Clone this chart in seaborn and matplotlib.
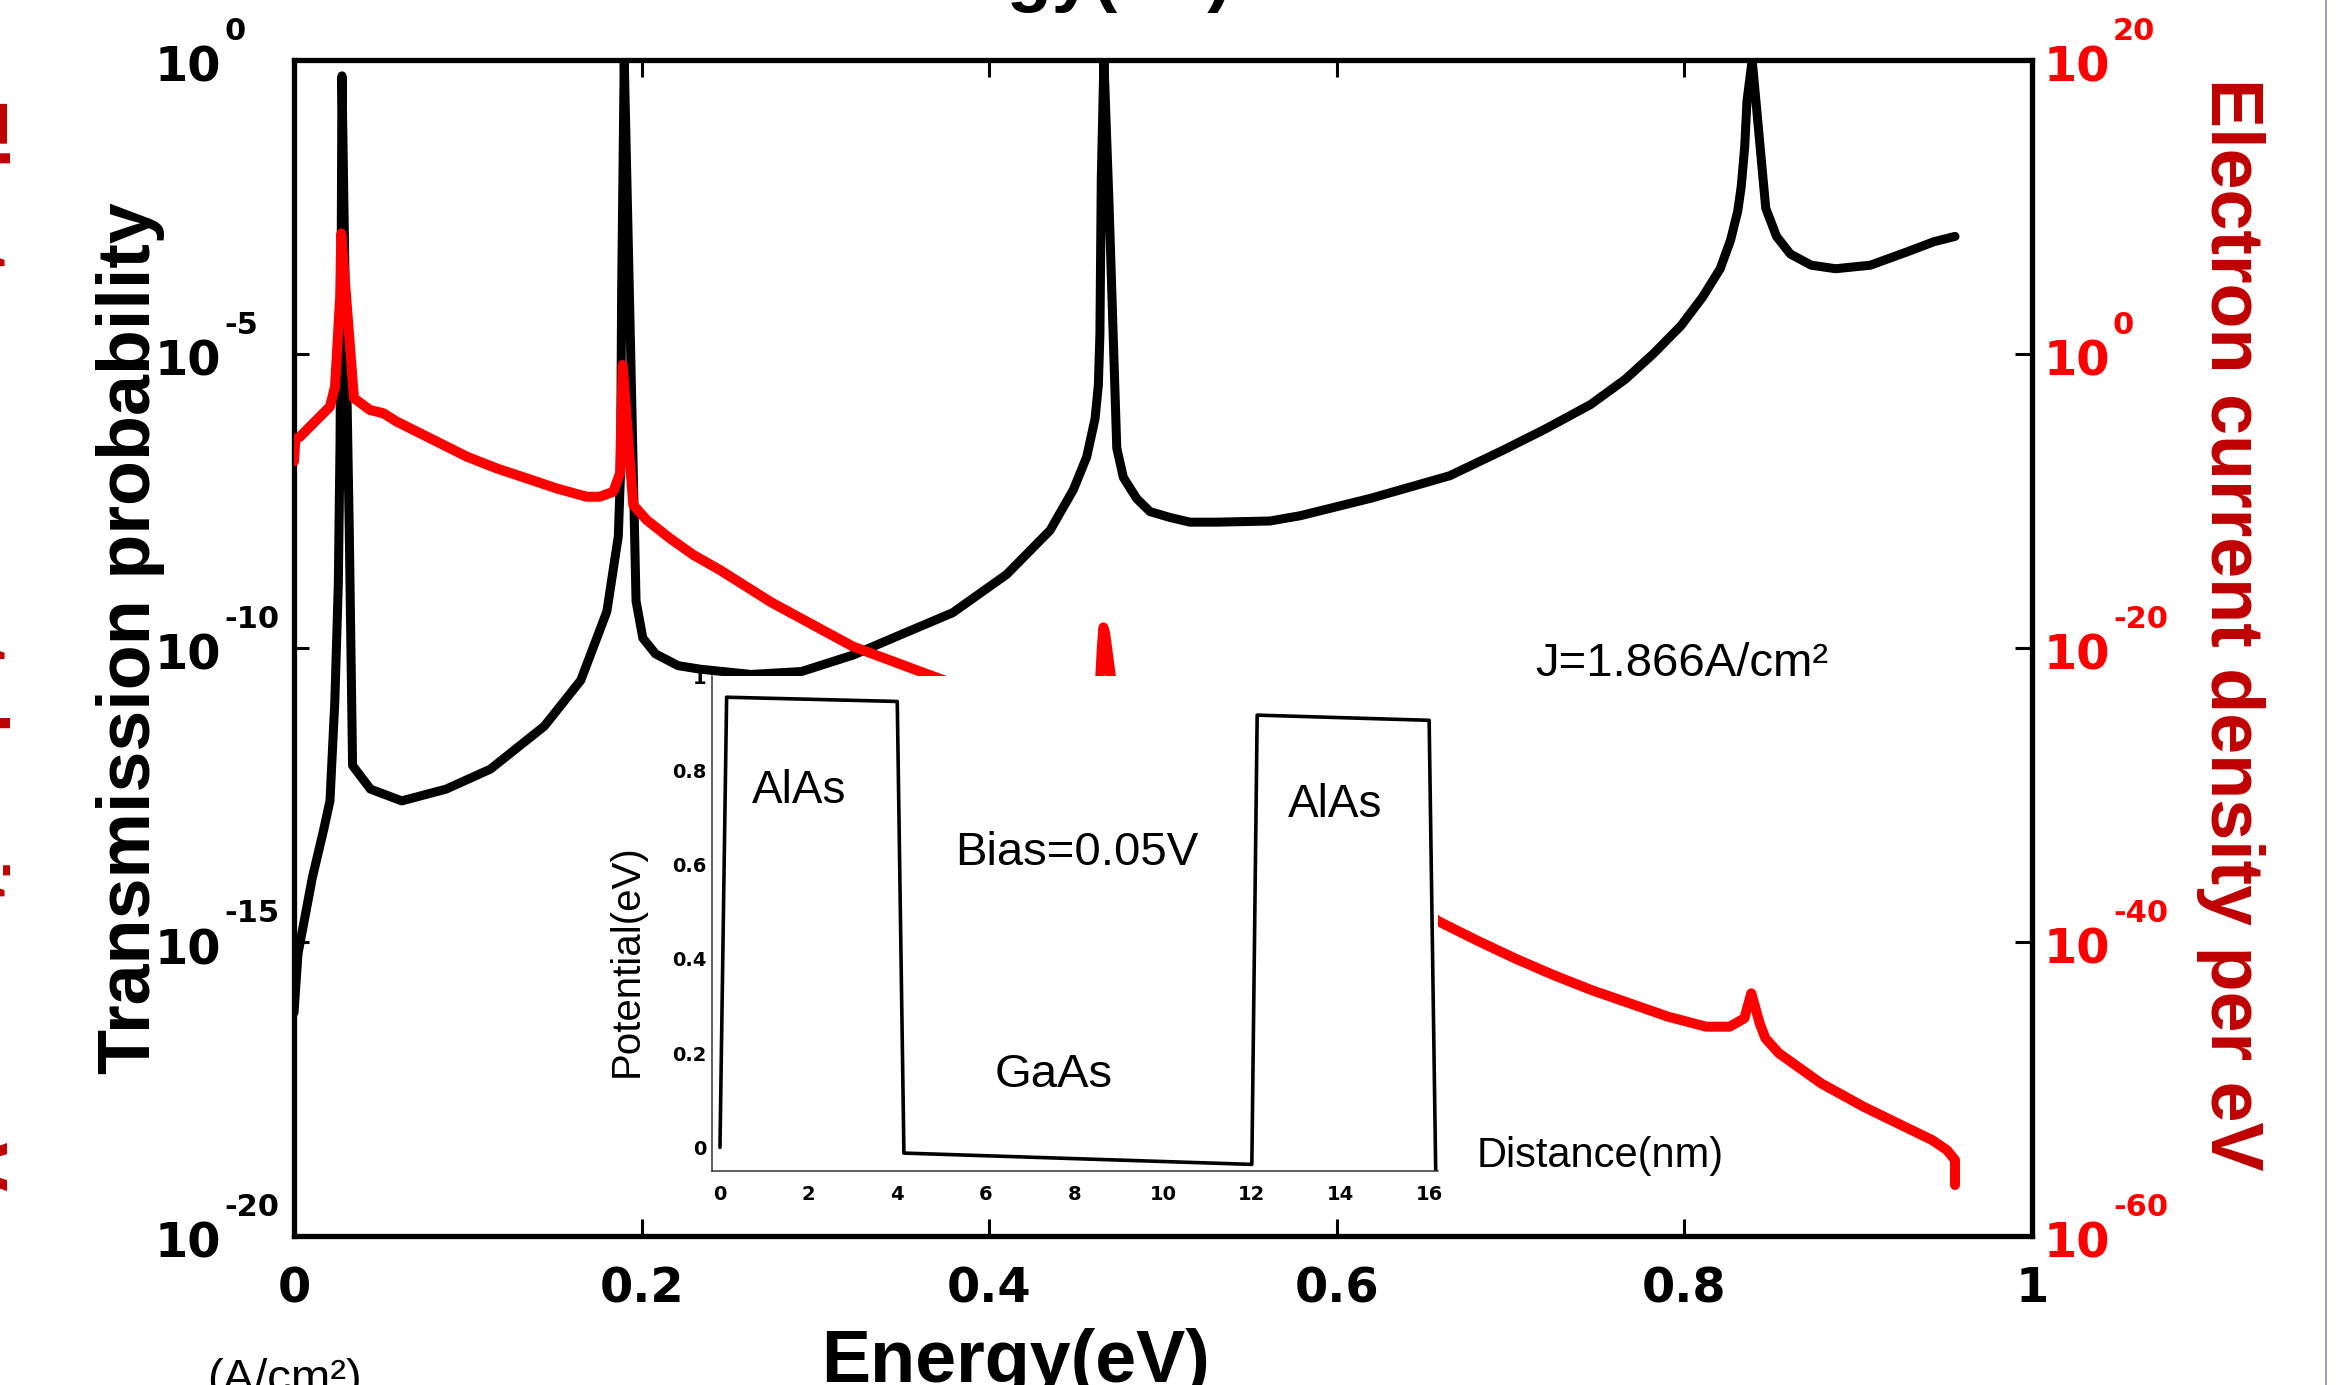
import numpy as np
import pandas as pd
import seaborn as sns
import matplotlib
matplotlib.use("Agg")
import matplotlib.pyplot as plt
from matplotlib import transforms
from matplotlib.lines import Line2D
from matplotlib.ticker import NullLocator

# ---------------- data ----------------
# Transmission probability T(E): energy (eV) and log10(T)
energy_t = [0.0000, 0.0023, 0.0106, 0.0170, 0.0207, 0.0235, 0.0255, 0.0265, 0.0272, 0.0276,
            0.0295, 0.0318, 0.0337, 0.0440, 0.0620, 0.0875, 0.1130, 0.1440, 0.1650, 0.1800,
            0.1866, 0.1879, 0.1885, 0.1900, 0.1930, 0.1968, 0.2007, 0.2080, 0.2210, 0.2336,
            0.2630, 0.2920, 0.3217, 0.3510, 0.3790, 0.4100, 0.4350, 0.4484, 0.4561, 0.4609,
            0.4628, 0.4637, 0.4645, 0.4660, 0.4690, 0.4734, 0.4772, 0.4849, 0.4925, 0.5040,
            0.5155, 0.5310, 0.5616, 0.5790, 0.6200, 0.6650, 0.6954, 0.7197, 0.7460, 0.7660,
            0.7820, 0.7980, 0.8105, 0.8206, 0.8266, 0.8307, 0.8327, 0.8347, 0.8360, 0.8390,
            0.8468, 0.8530, 0.8610, 0.8730, 0.8870, 0.9070, 0.9275, 0.9436, 0.9557]
log_transmission = [-16.2, -15.2, -13.9, -13.1, -12.6, -10.9, -8.9, -6.5, -3.0, -0.27,
                    -4.0, -8.0, -12.0, -12.4, -12.6, -12.4, -12.06, -11.33, -10.55, -9.38,
                    -8.10, -7.00, -4.0, 0.0, -4.0, -9.2, -9.83, -10.10, -10.30, -10.36,
                    -10.45, -10.40, -10.12, -9.75, -9.40, -8.75, -8.00, -7.31, -6.75, -6.10,
                    -5.53, -4.67, -2.0, 0.0, -2.5, -6.60, -7.10, -7.46, -7.68, -7.78,
                    -7.86, -7.86, -7.84, -7.75, -7.45, -7.07, -6.64, -6.28, -5.86, -5.43,
                    -5.00, -4.52, -4.03, -3.55, -3.06, -2.57, -2.15, -1.48, -0.70, 0.0,
                    -2.52, -3.00, -3.30, -3.49, -3.55, -3.49, -3.27, -3.09, -3.00]

# Electron current density per eV: energy (eV) and log10(J)
energy_j = [0.0000, 0.0008, 0.0035, 0.0111, 0.0207, 0.0236, 0.0246, 0.0266, 0.0272, 0.0300,
            0.0345, 0.0437, 0.0514, 0.0591, 0.0725, 0.0879, 0.0994, 0.1166, 0.1339, 0.1510,
            0.1684, 0.1760, 0.1837, 0.1876, 0.1891, 0.1952, 0.2029, 0.2163, 0.2298, 0.2450,
            0.2747, 0.3216, 0.3657, 0.4000, 0.4400, 0.4580, 0.4630, 0.4648, 0.4657, 0.4667,
            0.4700, 0.4760, 0.4900, 0.5200, 0.5600, 0.6000, 0.6300, 0.6590, 0.6800, 0.7024,
            0.7245, 0.7465, 0.7685, 0.7906, 0.8125, 0.8260, 0.8345, 0.8385, 0.8433, 0.8466,
            0.8544, 0.8786, 0.9030, 0.9226, 0.9425, 0.9510, 0.9557, 0.9557]
log_current = [-7.3, -5.8, -5.62, -4.71, -3.58, -2.22, -0.18, 4.0, 8.2, 3.9,
               -3.0, -3.81, -4.03, -4.60, -5.39, -6.30, -6.98, -7.78, -8.46, -9.14,
               -9.71, -9.71, -9.37, -8.12, -0.75, -10.27, -11.29, -12.54, -13.67, -14.69,
               -16.90, -19.90, -21.84, -23.3, -25.0, -25.6, -24.0, -20.0, -18.6, -19.0,
               -21.9, -24.5, -26.5, -28.9, -31.5, -34.2, -36.4, -38.62, -39.86, -41.11,
               -42.24, -43.27, -44.17, -45.08, -45.76, -45.76, -45.19, -43.49, -45.53, -46.55,
               -47.57, -49.61, -51.20, -52.33, -53.47, -54.15, -54.83, -56.53]

# Double-barrier potential profile under bias
distance_nm = [0.0, 0.15, 4.0, 4.15, 12.0, 12.12, 16.0, 16.15]
potential_ev = [0.0, 0.955, 0.946, -0.012, -0.036, 0.917, 0.906, -0.06]

x_ticks = [0, 0.2, 0.4, 0.6, 0.8, 1]
x_tick_labels = ["0", "0.2", "0.4", "0.6", "0.8", "1"]
left_exponents = [0, -5, -10, -15, -20]
right_exponents = [20, 0, -20, -40, -60]
inset_xticks = [0, 2, 4, 6, 8, 10, 12, 14, 16]
inset_yticks = [0, 0.2, 0.4, 0.6, 0.8, 1]
inset_ytick_labels = ["0", "0.2", "0.4", "0.6", "0.8", "1"]

# ---------------- figure ----------------
sns.set_theme(style="white")
plt.rcParams["font.family"] = ["Liberation Sans", "DejaVu Sans"]

W, H = 2340, 1385
fig = plt.figure(figsize=(W / 100, H / 100), dpi=100)
fig.patch.set_facecolor("white")


def fx(px):
    return px / W


def fy(py):
    return 1 - py / H


AX_L, AX_R, AX_T, AX_B = 294, 2032, 60, 1236
ax = fig.add_axes([fx(AX_L), fy(AX_B), fx(AX_R) - fx(AX_L), fy(AX_T) - fy(AX_B)])
ax.set_facecolor("white")
ax2 = ax.twinx()

ax.set_yscale("log")
ax.set_xlim(0, 1)
ax.set_ylim(1e-20, 1)
ax2.set_yscale("log")
ax2.set_ylim(1e-60, 1e20)

df_t = pd.DataFrame({"Energy": energy_t, "T": 10.0 ** np.array(log_transmission)})
df_j = pd.DataFrame({"Energy": energy_j, "J": 10.0 ** np.array(log_current)})

sns.lineplot(data=df_t, x="Energy", y="T", ax=ax, color="black", lw=6.5,
             estimator=None, sort=False, legend=False,
             solid_joinstyle="round", solid_capstyle="round")
sns.lineplot(data=df_j, x="Energy", y="J", ax=ax2, color="#ff0000", lw=7.2,
             estimator=None, sort=False, legend=False,
             solid_joinstyle="round", solid_capstyle="round")
ax.set_xlim(0, 1)
ax.set_ylim(1e-20, 1)
ax2.set_ylim(1e-60, 1e20)
for a in (ax, ax2):
    a.set_xlabel("")
    a.set_ylabel("")
    a.grid(False)

# spines
SPINE_W = 3.8
for name, sp in ax.spines.items():
    sp.set_visible(name != "right")
    sp.set_color("black")
    sp.set_linewidth(SPINE_W)
for name, sp in ax2.spines.items():
    sp.set_visible(name == "right")
    sp.set_color("black")
    sp.set_linewidth(SPINE_W)

# x ticks
ax.set_xticks(x_ticks, labels=x_tick_labels, fontfamily="DejaVu Sans",
              fontweight="bold", fontsize=34.5)
ax.tick_params(axis="x", which="major", bottom=True, top=True, direction="in",
               length=12, width=2.2, pad=21, colors="black")

# y ticks (labels drawn separately as base + raised exponent)
ax.set_yticks([10.0 ** e for e in left_exponents])
ax2.set_yticks([10.0 ** e for e in right_exponents])
for a in (ax, ax2):
    a.yaxis.set_minor_locator(NullLocator())
ax.tick_params(axis="y", which="major", left=True, right=False, labelleft=False,
               direction="in", length=11, width=2.2, colors="black")
ax2.tick_params(axis="y", which="major", left=False, right=True, labelright=False,
                direction="in", length=12, width=2.2, colors="black")

tick_font = dict(family="DejaVu Sans", weight="bold")
left_tr = transforms.blended_transform_factory(ax.transAxes, ax.transData)
right_tr = transforms.blended_transform_factory(ax2.transAxes, ax2.transData)
span = AX_R - AX_L
for e in left_exponents:
    ax.text((221 - AX_L) / span, 10.0 ** e, "10",
            transform=transforms.offset_copy(left_tr, fig=fig, y=-22, units="dots"),
            ha="right", va="baseline", fontsize=34.5, color="black", **tick_font)
    ax.text((224 - AX_L) / span, 10.0 ** e, f"{e}",
            transform=transforms.offset_copy(left_tr, fig=fig, y=20, units="dots"),
            ha="left", va="baseline", fontsize=22, color="black", **tick_font)
for e in right_exponents:
    ax2.text((2044 - AX_L) / span, 10.0 ** e, "10",
             transform=transforms.offset_copy(right_tr, fig=fig, y=-22, units="dots"),
             ha="left", va="baseline", fontsize=34.5, color="#ff0000", **tick_font)
    ax2.text((2113 - AX_L) / span, 10.0 ** e, f"{e}",
             transform=transforms.offset_copy(right_tr, fig=fig, y=20, units="dots"),
             ha="left", va="baseline", fontsize=22, color="#ff0000", **tick_font)

# axis titles
label_font = dict(family="Liberation Sans", weight="bold", fontsize=53)
fig.text(fx(1015), fy(1382), "Energy(eV)", ha="center", va="baseline",
         color="black", **label_font)
fig.text(fx(150), fy(638), "Transmission probability", rotation=90,
         rotation_mode="anchor", ha="center", va="baseline", color="black", **label_font)
fig.text(fx(2211), fy(624), "Electron current density per eV", rotation=-90,
         rotation_mode="anchor", ha="center", va="baseline", color="#c00000", **label_font)

# neighbouring panel fragments at the figure edges
fig.text(fx(1038), fy(-2), "Energy(eV)", ha="center", va="baseline",
         color="black", **label_font)
fig.text(fx(-45), fy(644), "Electron current density per eV", rotation=-90,
         rotation_mode="anchor", ha="center", va="baseline", color="#c00000", **label_font)
fig.text(fx(207), fy(1358), "(A/cm²)", ha="left", va="top", fontsize=34,
         family="Liberation Sans", color="black")
fig.add_artist(Line2D([fx(2326), fx(2326)], [0, 1], transform=fig.transFigure,
                      color="#8a8fb5", lw=1.2))

# total current annotation
ax.text(0.714, 10 ** -10.48, "J=1.866A/cm²", ha="left", va="baseline",
        fontsize=34, family="Liberation Sans", color="black")

# ---------------- inset: potential profile ----------------
IN_L, IN_R, IN_T, IN_B = 712, 1438, 676, 1171
ax_in = fig.add_axes([fx(IN_L), fy(IN_B), fx(IN_R) - fx(IN_L), fy(IN_T) - fy(IN_B)])
ax_in.set_zorder(10)
ax_in.set_facecolor("white")
sns.lineplot(x=distance_nm, y=potential_ev, ax=ax_in, color="black", lw=2.6,
             estimator=None, sort=False, legend=False)
ax_in.set_xlim(-0.18, 16.2)
ax_in.set_ylim(-0.05, 1.0)
ax_in.set_xlabel("")
ax_in.set_ylabel("")
ax_in.grid(False)
for name, sp in ax_in.spines.items():
    sp.set_visible(name in ("left", "bottom"))
    sp.set_color("#333333")
    sp.set_linewidth(1.1)
ax_in.set_xticks(inset_xticks, labels=[str(v) for v in inset_xticks],
                 fontfamily="DejaVu Sans", fontweight="bold", fontsize=14)
ax_in.set_yticks(inset_yticks, labels=inset_ytick_labels,
                 fontfamily="DejaVu Sans", fontweight="bold", fontsize=14)
ax_in.tick_params(axis="x", direction="in", length=5, width=0.8, pad=10, colors="black")
ax_in.tick_params(axis="y", direction="in", length=4, width=0.8, pad=4, colors="black")

in_font = dict(family="Liberation Sans", color="black")
ax_in.text(0.72, 0.731, "AlAs", ha="left", va="baseline", fontsize=33, **in_font)
ax_in.text(12.82, 0.70, "AlAs", ha="left", va="baseline", fontsize=33, **in_font)
ax_in.text(5.30, 0.60, "Bias=0.05V", ha="left", va="baseline", fontsize=34, **in_font)
ax_in.text(6.19, 0.128, "GaAs", ha="left", va="baseline", fontsize=34, **in_font)
ax_in.text(17.07, -0.041, "Distance(nm)", ha="left", va="baseline", fontsize=30,
           clip_on=False, **in_font)
ax_in.text(-0.117, 0.426, "Potential(eV)", rotation=90, ha="center", va="center",
           transform=ax_in.transAxes, fontsize=29, **in_font)

fig.savefig("out.png", dpi=100, facecolor="white")
